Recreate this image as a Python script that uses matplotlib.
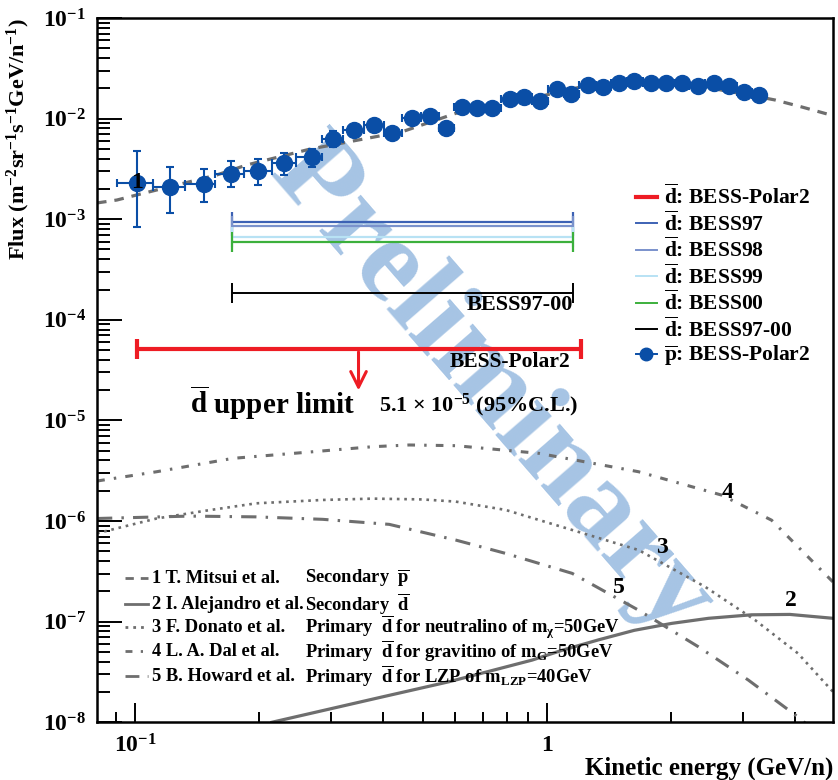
import numpy as np
import matplotlib
matplotlib.use('Agg')
import matplotlib.pyplot as plt
from matplotlib.lines import Line2D
from matplotlib.ticker import NullFormatter

plt.rcParams['font.family'] = ['Liberation Serif', 'DejaVu Serif']
plt.rcParams['font.weight'] = 'bold'
plt.rcParams['axes.labelweight'] = 'bold'
plt.rcParams['mathtext.fontset'] = 'custom'
plt.rcParams['mathtext.rm'] = 'Liberation Serif:bold'
plt.rcParams['mathtext.bf'] = 'Liberation Serif:bold'
plt.rcParams['mathtext.it'] = 'Liberation Serif:bold:italic'
plt.rcParams['mathtext.default'] = 'bf'

# --- pbar BESS-Polar2 data ---
pbar_e = [0.101, 0.122, 0.147, 0.171, 0.199, 0.230, 0.269, 0.303, 0.340, 0.381,
          0.421, 0.470, 0.520, 0.569, 0.621, 0.676, 0.737, 0.812, 0.881, 0.962,
          1.056, 1.145, 1.259, 1.366, 1.494, 1.631, 1.786, 1.949, 2.127, 2.325,
          2.541, 2.773, 3.015, 3.27]
pbar_flux = [2.29e-3, 2.10e-3, 2.24e-3, 2.82e-3, 3.03e-3, 3.65e-3, 4.12e-3, 6.27e-3,
             7.7e-3, 8.58e-3, 7.24e-3, 1.007e-2, 1.055e-2, 8.0e-3, 1.31e-2, 1.265e-2,
             1.265e-2, 1.56e-2, 1.63e-2, 1.51e-2, 1.95e-2, 1.75e-2, 2.14e-2, 2.06e-2,
             2.27e-2, 2.37e-2, 2.26e-2, 2.27e-2, 2.26e-2, 2.09e-2, 2.25e-2, 2.09e-2,
             1.85e-2, 1.73e-2]
pbar_err_lo = [1.45e-3, 0.94e-3, 0.75e-3, 0.73e-3, 0.84e-3, 0.88e-3, 0.84e-3, 1.05e-3,
               0, 0, 0, 0, 0, 0, 0, 0, 0, 0, 0, 0, 0, 0, 0, 0, 0, 0, 0, 0, 0, 0, 0, 0, 0, 0]
pbar_err_hi = [2.48e-3, 1.18e-3, 0.92e-3, 1.00e-3, 0.96e-3, 0.93e-3, 0.90e-3, 1.26e-3,
               0, 0, 0, 0, 0, 0, 0, 0, 0, 0, 0, 0, 0, 0, 0, 0, 0, 0, 0, 0, 0, 0, 0, 0, 0, 0]
bin_edges = [0.0904, 0.1106, 0.1322, 0.1562, 0.1836, 0.2146, 0.2467, 0.2852, 0.3207,
             0.3604, 0.4030, 0.4455, 0.4953, 0.5477, 0.5954, 0.6474, 0.7078, 0.7738,
             0.8460, 0.9198, 1.0056, 1.0994, 1.1953, 1.3140, 1.4288, 1.5620, 1.7077,
             1.8670, 2.0413, 2.2194, 2.4266, 2.6529, 2.9003, 3.1535, 3.4099]

# --- model curves ---
c1_e = [0.0809, 0.0904, 0.101, 0.158, 0.187, 0.265, 0.446, 0.602, 0.956, 1.216,
        1.671, 2.334, 3.28, 3.58, 4.14, 4.95]
c1_f = [1.45e-3, 1.55e-3, 1.74e-3, 2.75e-3, 3.46e-3, 4.95e-3, 7.41e-3, 1.13e-2,
        1.65e-2, 2.07e-2, 2.31e-2, 2.11e-2, 1.64e-2, 1.53e-2, 1.31e-2, 1.07e-2]
c2_e = [0.215, 0.3993, 0.579, 0.921, 1.09, 1.336, 1.63, 2.012, 2.47, 3.14, 3.89, 4.95]
c2_f = [1.0e-8, 1.79e-8, 2.53e-8, 4.15e-8, 5.2e-8, 6.6e-8, 8.2e-8, 9.62e-8,
        1.08e-7, 1.17e-7, 1.18e-7, 1.08e-7]
c3_e = [0.0809, 0.0937, 0.1129, 0.1491, 0.197, 0.2857, 0.3776, 0.499, 0.601, 0.794,
        1.152, 1.670, 2.423, 3.20, 4.07, 4.95]
c3_f = [7.55e-7, 8.78e-7, 1.06e-6, 1.27e-6, 1.50e-6, 1.62e-6, 1.67e-6, 1.64e-6,
        1.56e-6, 1.29e-6, 8.15e-7, 5.15e-7, 2.22e-7, 1.04e-7, 4.84e-8, 2.01e-8]
c4_e = [0.0810, 0.1129, 0.173, 0.2604, 0.3776, 0.4632, 0.601, 0.956, 1.670, 2.658,
        3.512, 4.95]
c4_f = [2.50e-6, 3.09e-6, 4.20e-6, 4.82e-6, 5.48e-6, 5.70e-6, 5.61e-6, 4.71e-6,
        3.09e-6, 1.81e-6, 1.02e-6, 2.48e-7]
c5_e = [0.0809, 0.1359, 0.197, 0.2857, 0.4143, 0.601, 0.794, 1.152, 1.670, 2.334,
        3.083, 4.07, 4.43]
c5_f = [1.06e-6, 1.12e-6, 1.10e-6, 1.04e-6, 9.27e-7, 6.47e-7, 4.77e-7, 3.02e-7,
        1.30e-7, 5.62e-8, 2.63e-8, 1.13e-8, 8.4e-9]

# --- dbar upper limits ---
bess_range = [0.1724, 1.156]
polar2_range = [0.1013, 1.21]
ul_bess97 = 9.44e-4
ul_bess98 = 8.61e-4
ul_bess99 = 6.70e-4
ul_bess00 = 5.97e-4
ul_bess9700 = 1.86e-4
ul_polar2 = 5.1e-5

col_pbar = '#0a4ea6'
col_curve = '#6e6e6e'
ls1 = (0, (3, 2.5))
ls2 = '-'
ls3 = (0, (1, 1.8))
ls4 = (0, (2.5, 3, 0.8, 3))
ls5 = (0, (5, 3, 0.8, 3))

fig = plt.figure(figsize=(8.38, 7.8), dpi=100)
ax = fig.add_axes([0.116, 0.074, 0.878, 0.903])
ax.set_xscale('log')
ax.set_yscale('log')
ax.set_xlim(0.081, 4.95)
ax.set_ylim(1e-8, 1e-1)

# model lines
ax.plot(c1_e, c1_f, color=col_curve, lw=2.3, ls=ls1)
ax.plot(c2_e, c2_f, color=col_curve, lw=2.3, ls=ls2)
ax.plot(c3_e, c3_f, color=col_curve, lw=1.9, ls=ls3)
ax.plot(c4_e, c4_f, color=col_curve, lw=2.2, ls=ls4)
ax.plot(c5_e, c5_f, color=col_curve, lw=2.2, ls=ls5)

# watermark
ax.text(0.535, 0.475, 'Preliminary', transform=ax.transAxes, fontsize=86,
        color='#a6c4e4', rotation=-49, ha='center', va='center', zorder=1.5)

# upper limits
def limit_bar(rng, y, color, lw, cap):
    ax.errorbar([rng[0]], [y], xerr=[[0], [rng[1] - rng[0]]], fmt='none',
                ecolor=color, elinewidth=lw, capsize=cap, capthick=lw, zorder=3)

limit_bar(bess_range, ul_bess97, '#3d62b4', 1.6, 7)
limit_bar(bess_range, ul_bess98, '#7a92cc', 1.6, 7)
limit_bar(bess_range, ul_bess99, '#b8e2f4', 1.6, 7)
limit_bar(bess_range, ul_bess00, '#3cb03c', 1.6, 7)
limit_bar(bess_range, ul_bess9700, 'black', 1.4, 7)
limit_bar(polar2_range, ul_polar2, '#ee1c24', 3.0, 7)
ax.annotate('', xy=(0.349, 1.86e-5), xytext=(0.349, ul_polar2),
            arrowprops=dict(arrowstyle='->', color='#ee1c24', lw=2.2,
                            mutation_scale=28), zorder=3)

ax.text(1.156, 1.40e-4, 'BESS97-00', ha='right', va='center', fontsize=16)
ax.text(1.14, 3.81e-5, 'BESS-Polar2', ha='right', va='center', fontsize=15.5)
ax.text(0.1359, 1.49e-5, r'$\overline{\mathbf{d}}$ upper limit', ha='left',
        va='center', fontsize=21)
ax.text(0.392, 1.42e-5, r'5.1 $\times$ 10$^{-5}$ (95%C.L.)', ha='left',
        va='center', fontsize=16)

# pbar data
e = np.array(pbar_e)
edges = np.array(bin_edges)
xerr = [e - edges[:-1], edges[1:] - e]
ax.errorbar(pbar_e, pbar_flux, xerr=xerr, yerr=[pbar_err_lo, pbar_err_hi],
            fmt='o', color=col_pbar, ms=11.5, elinewidth=1.5, capsize=3,
            capthick=1.5, zorder=4)

# curve numbers
for txt, xx, yy in [('1', 0.101, 2.29e-3), ('2', 3.92, 1.64e-7), ('3', 1.90, 5.40e-7),
                    ('4', 2.74, 1.94e-6), ('5', 1.494, 2.21e-7)]:
    ax.text(xx, yy, txt, ha='center', va='center', fontsize=17, zorder=5)

# model key (bottom left)
key_rows = [0.2045, 0.1676, 0.1349, 0.1009, 0.0653]
key_styles = [ls1, ls2, ls3, ls4, ls5]
key_names = ['1 T. Mitsui et al.', '2 I. Alejandro et al.', '3 F. Donato et al.',
             '4 L. A. Dal et al.', '5 B. Howard et al.']
key_desc = [r'Secondary  $\overline{\mathbf{p}}$',
            r'Secondary  $\overline{\mathbf{d}}$',
            r'Primary  $\overline{\mathbf{d}}$ for neutralino of m$_{\chi}$=50GeV',
            r'Primary  $\overline{\mathbf{d}}$ for gravitino of m$_{\mathrm{G}}$=50GeV',
            r'Primary  $\overline{\mathbf{d}}$ for LZP of m$_{\mathrm{LZP}}$=40GeV']
for yy, st, nm, ds in zip(key_rows, key_styles, key_names, key_desc):
    ax.add_line(Line2D([0.038, 0.069], [yy, yy], transform=ax.transAxes,
                       color=col_curve, lw=2.0, ls=st))
    ax.text(0.0747, yy, nm, transform=ax.transAxes, ha='left', va='center', fontsize=13.3)
    ax.text(0.2826, yy, ds, transform=ax.transAxes, ha='left', va='center', fontsize=13.3)

# right legend
handles = [
    Line2D([], [], color='#ee1c24', lw=3.0),
    Line2D([], [], color='#3d62b4', lw=1.4),
    Line2D([], [], color='#7a92cc', lw=1.4),
    Line2D([], [], color='#b8e2f4', lw=1.4),
    Line2D([], [], color='#3cb03c', lw=1.4),
    Line2D([], [], color='black', lw=1.4),
    Line2D([], [], color=col_pbar, lw=1.4, marker='o', ms=9),
]
labels = [r'$\overline{\mathbf{d}}$: BESS-Polar2', r'$\overline{\mathbf{d}}$: BESS97',
          r'$\overline{\mathbf{d}}$: BESS98', r'$\overline{\mathbf{d}}$: BESS99',
          r'$\overline{\mathbf{d}}$: BESS00', r'$\overline{\mathbf{d}}$: BESS97-00',
          r'$\overline{\mathbf{p}}$: BESS-Polar2']
ax.legend(handles, labels, loc='upper left', bbox_to_anchor=(0.72, 0.775),
          frameon=False, fontsize=15.5, handlelength=1.0, handletextpad=0.3,
          labelspacing=0.1, borderaxespad=0)

# axes style
for sp in ax.spines.values():
    sp.set_linewidth(1.8)
ax.tick_params(which='both', direction='in', top=False, right=False, width=1.4,
               labelsize=17)
ax.tick_params(axis='y', which='major', length=18, pad=8)
ax.tick_params(axis='y', which='minor', length=9)
ax.tick_params(axis='x', which='major', length=14, pad=9)
ax.tick_params(axis='x', which='minor', length=7)
ax.set_xticks([0.1, 1])
ax.set_xticklabels([r'10$^{-1}$', '1'])
ax.xaxis.set_minor_formatter(NullFormatter())
ax.yaxis.set_minor_formatter(NullFormatter())
ax.set_ylabel(r'Flux (m$^{-2}$sr$^{-1}$s$^{-1}$GeV/n$^{-1}$)', loc='top', fontsize=16)
ax.yaxis.set_label_coords(-0.088, 1.0)
ax.set_xlabel('Kinetic energy (GeV/n)', loc='right', fontsize=18)
ax.xaxis.set_label_coords(1.0, -0.048)

fig.savefig('out.png', dpi=100)
